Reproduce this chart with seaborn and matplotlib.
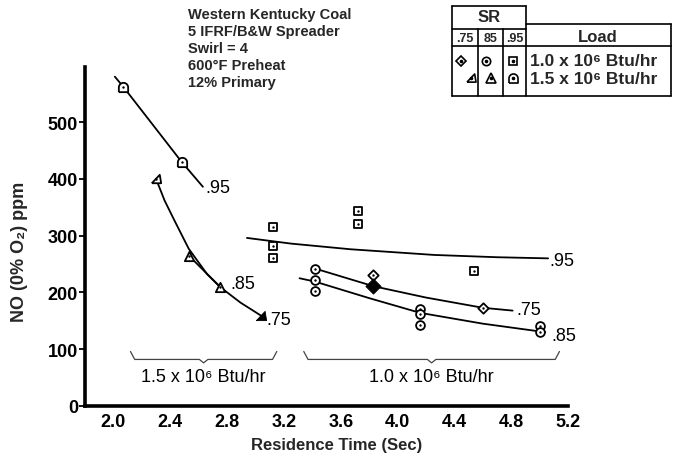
import numpy as np
import pandas as pd
import seaborn as sns
import matplotlib.pyplot as plt
from matplotlib.lines import Line2D
from matplotlib.path import Path

# ---------------- data ----------------
# 1.0 x 10^6 Btu/hr load
sq10_x = [3.12, 3.12, 3.12, 3.72, 3.72, 4.54]          # SR .95
sq10_y = [315, 281, 261, 344, 320, 238]
circ10_x = [3.42, 3.42, 3.42, 4.16, 4.16, 4.16, 5.00, 5.00]  # SR .85
circ10_y = [242, 222, 203, 170, 162, 142, 141, 131]
dia10_x = [3.83, 4.60]                                 # SR .75
dia10_y = [231, 173]
dia10_fill_x = [3.83]
dia10_fill_y = [211]

# 1.5 x 10^6 Btu/hr load
arch15_x = [2.07, 2.48]                                # SR .95
arch15_y = [562, 430]
tri15_x = [2.53, 2.75]                                 # SR .85
tri15_y = [265, 209]
rtri15_x = [2.30]                                      # SR .75
rtri15_y = [400]
rtri15_fill_x = [3.04]
rtri15_fill_y = [159]

# hand-fitted curves
c95_15_x = [2.01, 2.07, 2.48, 2.63]
c95_15_y = [580, 562, 430, 386]
c75_15_x = [2.30, 2.36, 2.425, 2.53, 2.66, 2.754, 2.895, 3.04]
c75_15_y = [400, 362, 329, 277, 232, 209, 182, 159]
c85_15_x = [2.53, 2.754]
c85_15_y = [265, 209]
c95_10_x = [2.94, 3.25, 3.67, 4.26, 4.70, 5.06]
c95_10_y = [296, 286, 276, 266, 262, 260]
c75_10_x = [3.42, 3.83, 4.20, 4.60, 4.81]
c75_10_y = [242, 211, 191, 173, 168]
c85_10_x = [3.31, 3.42, 3.80, 4.16, 4.60, 5.04]
c85_10_y = [225, 219, 190, 164, 145, 130]

curve_labels = [(2.65, 385, ".95"), (2.82, 216, ".85"), (3.08, 153, ".75"),
                (5.07, 257, ".95"), (4.84, 170, ".75"), (5.08, 125, ".85")]

x_ticks = [2.0, 2.4, 2.8, 3.2, 3.6, 4.0, 4.4, 4.8, 5.2]
y_ticks = [0, 100, 200, 300, 400, 500]

title_lines = ["Western Kentucky Coal", "5 IFRF/B&W Spreader", "Swirl = 4",
               "600°F Preheat", "12% Primary"]
load_labels = ["1.0 x 10⁶ Btu/hr", "1.5 x 10⁶ Btu/hr"]
sr_labels = [".75", "85", ".95"]

# ---------------- style ----------------
sns.set_theme(style="white")
plt.rcParams['font.family'] = ['Liberation Sans', 'DejaVu Sans']

W, H = 673, 460
fig = plt.figure(figsize=(W / 100, H / 100), dpi=100)
ax = fig.add_axes([85 / W, 1 - 407 / H, 483 / W, (407 - 68) / H])


def fx(px):
    return px / W


def fy(py):
    return 1 - py / H


# custom marker shapes
theta = np.linspace(0, np.pi, 24)
arch_verts = [(-1, -1), (1, -1), (1, 0)] + [(np.cos(t), np.sin(t)) for t in theta] + [(-1, 0), (-1, -1)]
arch_marker = Path(arch_verts)
rtri_marker = Path([(-1, -0.8), (1, -0.8), (0.7, 1.0), (-1, -0.8)])

open_kw = dict(facecolor="white", edgecolor="black", linewidth=1.3, zorder=4)
dot_kw = dict(color="black", s=3, marker="o", linewidth=0, zorder=5)

# curves
for cx, cy in [(c95_15_x, c95_15_y), (c75_15_x, c75_15_y), (c85_15_x, c85_15_y),
               (c95_10_x, c95_10_y), (c75_10_x, c75_10_y), (c85_10_x, c85_10_y)]:
    sns.lineplot(x=cx, y=cy, ax=ax, color="black", linewidth=1.3, sort=False,
                 estimator=None, zorder=3)

# open markers with centre dots
for px, py, mk, sz in [(sq10_x, sq10_y, "s", 30), (circ10_x, circ10_y, "o", 40),
                       (dia10_x, dia10_y, "D", 28), (arch15_x, arch15_y, arch_marker, 45),
                       (tri15_x, tri15_y, "^", 45), (rtri15_x, rtri15_y, rtri_marker, 45)]:
    sns.scatterplot(x=px, y=py, ax=ax, marker=mk, s=sz, **open_kw)
    sns.scatterplot(x=px, y=py, ax=ax, **dot_kw)

# filled markers
sns.scatterplot(x=dia10_fill_x, y=dia10_fill_y, ax=ax, marker="D", s=60,
                color="black", edgecolor="black", zorder=5)
sns.scatterplot(x=rtri15_fill_x, y=rtri15_fill_y, ax=ax, marker=rtri_marker, s=55,
                color="black", edgecolor="black", zorder=5)

for x, y, t in curve_labels:
    ax.text(x, y, t, fontsize=13, va="center", ha="left", color="black")

# load brackets beneath the curves
def brace(x0, x1, label):
    xm = (x0 + x1) / 2
    d = 0.03
    bx = [x0, x0 + d, xm - d, xm, xm + d, x1 - d, x1]
    by = [96, 82, 82, 76, 82, 82, 96]
    ax.plot(bx, by, color="#444444", linewidth=0.9, zorder=2)
    ax.text(xm, 52, label, ha="center", va="center", fontsize=13, color="black")


brace(2.12, 3.15, load_labels[1])
brace(3.34, 5.14, load_labels[0])

# axes
ax.set_xlim(1.8, 5.2)
ax.set_ylim(0, 597)
ax.set_xticks(x_ticks)
ax.set_xticklabels([f"{v:.1f}" for v in x_ticks], fontsize=13, fontweight="bold")
ax.set_yticks(y_ticks)
ax.set_yticklabels([str(v) for v in y_ticks], fontsize=13, fontweight="bold")
ax.tick_params(axis="x", length=0, pad=5, colors="black")
ax.tick_params(axis="y", length=4, width=1.3, pad=1, left=True, direction="out", colors="black")
sns.despine(ax=ax)
for s in ["left", "bottom"]:
    ax.spines[s].set_linewidth(2.6)
    ax.spines[s].set_color("black")
ax.set_xlabel("")
ax.set_ylabel("")

fig.text(fx(337), fy(446), "Residence Time (Sec)", ha="center", va="center",
         fontsize=12, fontweight="bold")
fig.text(fx(20), fy(252), "NO (0% O₂) ppm", ha="center", va="center",
         rotation=90, fontsize=13, fontweight="bold")

# description block
for i, line in enumerate(title_lines):
    fig.text(fx(188), fy(15 + 17.1 * i), line, ha="left", va="center",
             fontsize=10.5, fontweight="heavy")

# symbol table
def hline(x0, x1, y, lw=1.2):
    fig.add_artist(Line2D([fx(x0), fx(x1)], [fy(y), fy(y)], color="black",
                          linewidth=lw, transform=fig.transFigure))


def vline(x, y0, y1, lw=1.2):
    fig.add_artist(Line2D([fx(x), fx(x)], [fy(y0), fy(y1)], color="black",
                          linewidth=lw, transform=fig.transFigure))


hline(452, 526, 7)
hline(452, 526, 30)
hline(526, 671, 25)
hline(452, 671, 47)
hline(452, 671, 97)
vline(452, 7, 97)
vline(526, 7, 97)
vline(478, 30, 97)
vline(503, 30, 97)
vline(671, 25, 97)

fig.text(fx(489), fy(18), "SR", ha="center", va="center", fontsize=12, fontweight="bold")
for xc, t in zip([465, 490.5, 514.5], sr_labels):
    fig.text(fx(xc), fy(39), t, ha="center", va="center", fontsize=9, fontweight="bold")
fig.text(fx(598), fy(38), "Load", ha="center", va="center", fontsize=12, fontweight="bold")

legend_rows = [
    (62, [(461, "D", 5.0), (486, "o", 6.0), (513, "s", 5.5)]),
    (79, [(471, rtri_marker, 6.5), (491, "^", 7.0), (513, arch_marker, 6.5)]),
]
for (yy, items), lab in zip(legend_rows, load_labels):
    for xx, mk, ms in items:
        fig.add_artist(Line2D([fx(xx)], [fy(yy)], marker=mk, markersize=ms,
                              markerfacecolor="white", markeredgecolor="black",
                              markeredgewidth=1.2, linestyle="none",
                              transform=fig.transFigure))
        fig.add_artist(Line2D([fx(xx)], [fy(yy)], marker="o", markersize=1.6,
                              color="black", linestyle="none",
                              transform=fig.transFigure))
    fig.text(fx(530), fy(yy), lab, ha="left", va="center", fontsize=12.5, fontweight="bold")

fig.savefig("out.png", dpi=100)
